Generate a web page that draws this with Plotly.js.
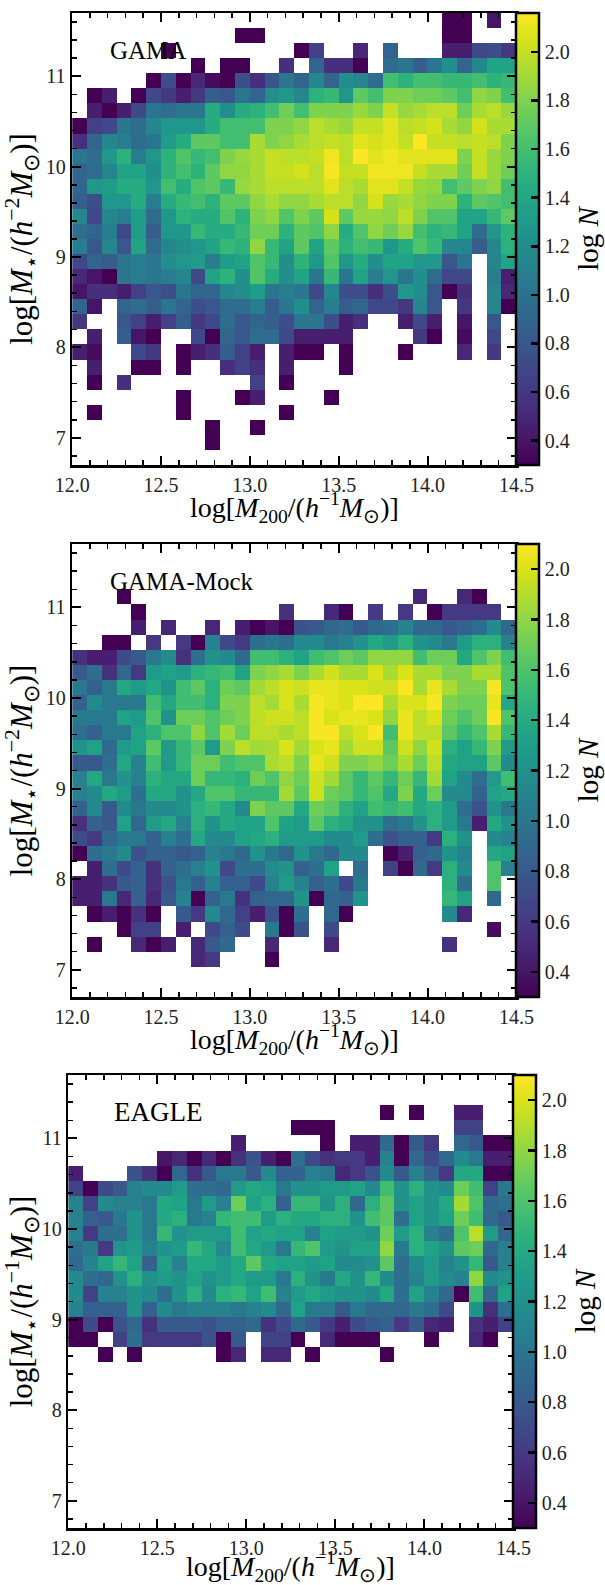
<!DOCTYPE html>
<html>
<head>
<meta charset="utf-8">
<script src="https://cdn.plot.ly/plotly-3.0.1.min.js"></script>
<style>html, body { margin: 0; padding: 0; background: white; }</style>
</head>
<body>
<div id="plot" style="width:605px;height:1585px;"></div>
<script>
const _ = null;

// log N per bin, rows from the top of the panel (11.7) down to 6.7
const gamaRows = [
  [_,_,_,_,_,_,_,_,_,_,_,_,_,_,_,_,_,_,_,_,_,_,_,_,_,.3,.3,_,.4,_],
  [_,_,_,_,_,_,_,_,_,_,_,.3,.3,_,_,_,_,_,_,_,_,_,_,_,_,.3,.3,_,_,_],
  [_,_,_,_,_,_,.3,_,_,_,_,_,_,_,_,.3,.65,_,_,.5,_,.9,_,_,_,.45,.45,.7,.75,.6],
  [_,_,_,_,_,_,_,_,.3,_,.3,.3,_,_,.55,_,.9,.55,.55,.3,_,.95,1.03,.85,1.03,1.22,.9,1.15,1.38,1.38],
  [_,_,_,_,_,.3,.75,.3,.5,.35,.3,.75,.55,.8,1.03,.9,1.15,.9,1.22,1.15,.95,1.6,1.5,1.6,1.6,1.55,1.55,1.6,1.5,1.55],
  [_,.3,.45,_,.3,.7,.6,.45,.6,.85,.8,1.03,.9,1.22,1.28,1.15,1.5,1.55,1.28,1.7,1.6,1.8,1.8,1.75,1.75,1.7,1.6,1.85,1.8,1.6],
  [_,.45,.3,.45,.7,1.03,.95,1.03,1.03,1.45,1.22,1.45,1.5,1.6,1.75,1.6,1.8,1.8,1.8,1.87,1.8,2.0,1.87,1.92,1.97,1.97,1.75,1.92,1.97,1.87],
  [.3,.65,.7,1.03,.95,1.15,1.28,1.28,1.28,1.45,1.6,1.6,1.6,1.8,1.8,1.85,1.97,1.92,1.87,2.0,2.0,2.08,1.97,2.0,2.04,1.92,1.85,2.04,1.92,1.92],
  [.55,.9,1.15,1.08,.95,1.03,1.33,1.45,1.7,1.7,1.6,1.6,1.92,1.8,1.85,1.92,1.97,2.0,1.97,2.08,2.04,2.08,2.0,2.16,2.0,2.0,1.97,2.0,1.97,1.8],
  [1.03,.95,1.28,1.5,1.08,1.28,1.5,1.65,1.55,1.6,1.8,1.87,1.92,2.0,1.97,1.97,2.0,2.12,1.97,2.16,2.08,2.12,2.08,2.08,2.08,2.08,1.8,2.0,1.87,1.8],
  [.9,.95,1.15,1.38,1.38,1.22,1.5,1.6,1.5,1.7,1.85,1.85,1.92,2.0,2.0,2.04,1.97,2.14,2.0,2.0,2.12,2.12,2.12,2.0,1.92,1.92,1.75,2.0,1.87,1.75],
  [.9,1.28,1.33,1.45,1.45,1.28,1.6,1.45,1.65,1.7,1.55,1.87,1.92,1.97,1.97,1.97,1.97,2.08,1.97,1.92,2.08,2.08,2.0,1.87,1.85,1.6,1.7,1.8,1.85,1.6],
  [.85,.75,1.28,1.28,1.45,1.08,1.45,1.55,1.6,1.5,1.7,1.7,1.85,1.92,1.85,1.85,1.92,1.97,1.97,1.85,2.04,1.87,1.92,1.85,1.8,1.8,1.5,1.7,1.65,1.6],
  [1.15,.7,1.15,1.08,1.33,.95,1.28,1.5,1.45,1.45,1.65,1.5,1.8,1.85,1.65,1.8,1.7,2.04,1.7,1.87,1.87,1.85,1.97,1.8,1.65,1.65,1.38,1.38,1.55,1.7],
  [.95,.9,1.08,.7,1.33,.85,1.28,1.28,1.55,1.45,1.45,1.55,1.75,1.75,1.5,1.7,1.65,1.85,1.45,1.65,1.85,1.75,1.87,1.6,1.5,1.55,1.38,.95,1.28,1.5],
  [1.08,.8,1.15,.8,1.38,.95,1.15,1.22,1.28,1.38,1.55,1.5,1.85,1.55,1.38,1.7,1.38,1.7,1.5,1.6,1.55,1.28,1.45,1.65,1.55,1.15,1.15,.85,1.15,1.5],
  [.7,.9,.85,1.03,1.08,1.03,1.22,1.28,1.33,1.08,1.33,1.38,1.65,1.55,1.22,1.5,1.28,1.65,1.28,1.45,1.22,1.38,1.38,1.28,1.28,.8,1.03,_,1.15,1.38],
  [.5,.4,.3,1.03,1.08,1.03,1.08,1.15,.7,1.38,1.5,1.22,1.65,1.45,1.22,1.38,1.03,1.55,1.03,1.38,1.08,1.28,1.03,1.22,.95,.7,.7,_,1.08,.45],
  [.4,.55,.55,.45,.65,.8,.75,1.03,.9,.9,1.15,1.22,1.33,1.03,1.08,1.03,.7,1.15,.75,.75,.55,.75,1.28,1.22,.8,.3,.55,_,1.15,.5],
  [.9,.4,_,.9,.95,.85,1.03,.9,.75,.8,.95,.95,1.08,.85,1.03,1.22,.9,1.08,.85,.9,.7,.7,.6,1.15,.8,_,.6,_,1.15,.3],
  [.6,_,_,.8,.65,.45,.65,.85,.6,.7,.95,.8,.9,.85,.75,1.03,1.03,.75,.45,.55,_,_,.45,.7,.45,_,.4,_,.8,_],
  [_,.45,_,.85,.4,.3,_,_,.7,.3,.9,.8,.95,.95,.7,.45,.45,.45,.45,_,_,_,_,.6,.3,_,.35,_,.7,_],
  [.45,.35,_,_,.7,.6,_,.3,.45,.55,.85,.65,.45,_,.45,.3,.3,_,.3,_,_,_,.3,_,_,_,.5,_,.6,_],
  [_,.45,_,_,.3,.3,_,.3,_,_,.55,.65,.55,_,.45,_,_,_,.3,_,_,_,_,_,_,_,_,_,_,_],
  [_,.3,_,.55,_,_,_,_,_,_,_,_,.65,_,.3,_,_,_,_,_,_,_,_,_,_,_,_,_,_,_],
  [_,_,_,_,_,_,_,.3,_,_,_,.3,.45,_,_,_,_,.3,_,_,_,_,_,_,_,_,_,_,_,_],
  [_,.3,_,_,_,_,_,.3,_,_,_,_,_,_,.3,_,_,_,_,_,_,_,_,_,_,_,_,_,_,_],
  [_,_,_,_,_,_,_,_,_,.3,_,_,.3,_,_,_,_,_,_,_,_,_,_,_,_,_,_,_,_,_],
  [_,_,_,_,_,_,_,_,_,.3,_,_,_,_,_,_,_,_,_,_,_,_,_,_,_,_,_,_,_,_],
  [_,_,_,_,_,_,_,_,_,_,_,_,_,_,_,_,_,_,_,_,_,_,_,_,_,_,_,_,_,_],
];

const mockRows = [
  [_,_,_,_,_,_,_,_,_,_,_,_,_,_,_,_,_,_,_,_,_,_,_,_,_,_,_,_,_,_],
  [_,_,_,_,_,_,_,_,_,_,_,_,_,_,_,_,_,_,_,_,_,_,_,_,_,_,_,_,_,_],
  [_,_,_,_,_,_,_,_,_,_,_,_,_,_,_,_,_,_,_,_,_,_,_,_,_,_,_,_,_,_],
  [_,_,_,.3,_,_,_,_,_,_,_,_,_,_,_,_,_,_,_,_,_,_,_,.5,_,_,.5,.3,_,_],
  [_,_,_,_,.3,_,_,_,_,_,_,_,_,_,.55,_,_,.5,.3,_,.6,_,.6,_,.3,.6,.6,.6,.6,_],
  [_,_,_,_,.45,_,.5,_,_,.5,_,.45,.3,.4,.3,.75,.8,.9,.95,.8,.9,.95,1.08,.9,.9,.8,.85,.95,1.15,.9],
  [_,_,.3,.3,_,.6,_,.6,.3,1.08,.7,.6,.95,1.03,.95,1.15,1.15,1.03,1.08,1.22,1.38,1.28,1.45,1.22,1.15,1.03,1.28,1.45,1.45,1.08],
  [.55,.45,.45,.7,.8,1.03,1.15,.55,.95,1.22,1.15,.9,1.55,1.55,1.45,1.33,1.55,1.6,1.7,1.65,1.8,1.8,1.8,1.55,1.7,1.7,1.38,1.6,1.75,1.55],
  [.8,.95,.55,.9,.6,1.28,1.33,1.28,1.45,1.5,1.55,1.33,1.75,1.8,1.87,1.75,1.87,1.97,1.87,1.87,2.0,1.87,2.0,1.87,1.87,1.75,1.75,1.87,1.87,1.6],
  [1.03,.85,1.03,1.38,1.28,1.38,1.22,1.55,1.65,1.45,1.7,1.65,1.85,1.92,2.0,1.97,2.04,2.04,2.0,2.0,1.97,1.97,2.1,1.87,2.04,1.87,1.75,1.75,2.08,1.6],
  [.85,1.15,1.03,1.03,1.03,1.55,1.38,1.55,1.55,1.45,1.75,1.75,1.92,1.85,2.0,1.87,2.08,2.04,2.0,2.1,2.1,1.87,2.0,2.0,2.08,1.75,1.7,1.7,2.04,1.38],
  [1.03,1.03,1.03,1.33,1.28,1.6,1.22,1.7,1.7,1.6,1.7,1.75,1.92,1.97,1.97,1.92,2.08,2.0,2.04,2.04,2.0,1.8,2.04,1.92,2.0,1.7,1.6,1.7,2.08,1.6],
  [.95,.85,1.03,1.03,1.33,1.45,1.6,1.6,1.8,1.6,1.85,1.7,1.92,1.92,1.87,1.92,2.08,2.08,1.92,2.0,2.08,1.55,2.04,1.92,1.92,1.65,1.5,1.6,1.87,1.5],
  [1.22,1.33,.9,1.28,1.33,1.65,1.28,1.5,1.65,1.28,1.75,1.92,1.85,1.87,2.0,1.85,2.0,2.04,1.85,1.97,1.97,1.65,1.97,1.8,1.97,1.45,1.33,1.5,1.75,1.28],
  [.8,.8,.95,1.38,1.08,1.55,1.28,1.5,1.7,1.7,1.55,1.6,1.6,1.87,1.92,1.75,2.04,1.97,1.75,1.75,1.8,1.7,1.87,1.7,1.92,1.38,1.33,1.33,1.65,1.15],
  [1.08,1.38,1.03,1.22,1.08,1.45,1.38,1.38,1.7,1.5,1.5,1.45,1.7,1.6,1.8,1.7,1.97,1.85,1.65,1.5,1.65,1.5,1.7,1.5,1.85,1.33,1.15,.95,1.28,1.55],
  [1.08,1.15,1.38,1.28,.95,1.38,1.38,1.22,1.38,1.6,1.6,1.5,1.5,1.5,1.85,1.65,1.97,1.7,1.65,1.5,1.6,1.38,1.75,1.38,1.7,1.15,1.15,.85,1.33,1.38],
  [.85,1.15,.8,1.15,1.03,1.15,1.15,1.22,1.45,1.5,1.38,1.15,1.75,1.65,1.65,1.38,1.7,1.65,1.45,1.33,1.55,1.5,1.55,1.38,1.45,1.28,.95,.75,1.22,1.03],
  [.55,.85,.8,1.33,.9,1.28,1.38,1.08,1.45,1.22,1.38,1.33,1.33,1.6,1.33,1.28,1.65,1.45,1.38,1.22,1.22,.95,1.03,1.22,1.45,1.28,1.03,.45,1.38,1.22],
  [.7,.6,.9,1.03,1.03,.85,1.08,.95,1.38,1.15,1.15,1.33,1.38,1.45,1.28,1.28,1.28,1.15,1.15,1.28,.95,.75,.85,.85,.6,1.45,1.22,_,1.15,1.08],
  [.3,.95,1.03,1.15,.75,.85,.85,.8,.85,1.08,1.03,.9,1.22,1.03,.9,1.22,1.03,.9,1.15,1.15,_,.3,.45,.85,.9,1.22,1.08,_,1.38,1.33],
  [_,.45,.95,.7,.85,.55,.85,.95,1.08,1.22,.7,.95,.95,1.15,1.22,.85,.95,1.33,_,.95,_,.65,.3,.9,.6,1.45,1.15,_,1.6,1.08],
  [.45,.45,.55,.8,.85,.55,.75,1.03,.85,1.08,.85,.85,.7,1.08,1.28,1.08,.85,.95,.7,1.03,_,_,_,_,_,1.45,.95,_,1.6,_],
  [.45,.45,1.03,.5,.85,.5,.8,1.08,.3,.85,1.03,.55,.85,.9,.9,1.22,.3,.9,.85,1.22,_,_,_,_,_,1.5,1.33,_,.9,_],
  [_,.3,.45,.3,.55,.3,_,.8,.6,1.15,.9,.65,.45,.75,.3,.95,_,.9,.3,_,_,_,_,_,_,1.15,.5,_,_,_],
  [_,_,_,.3,.65,.65,_,.45,_,.7,.85,.7,_,1.03,.3,.75,_,.7,_,_,_,_,_,_,_,_,_,_,.35,_],
  [_,.3,_,_,.5,.3,.45,_,.5,.8,.9,_,_,.5,_,_,_,.5,_,_,_,_,_,_,_,.55,_,_,_,_],
  [_,_,_,_,_,_,_,_,.5,.6,_,_,_,.3,_,_,_,_,_,_,_,_,_,_,_,_,_,_,_,_],
  [_,_,_,_,_,_,_,_,_,_,_,_,_,_,_,_,_,_,_,_,_,_,_,_,_,_,_,_,_,_],
  [_,_,_,_,_,_,_,_,_,_,_,_,_,_,_,_,_,_,_,_,_,_,_,_,_,_,_,_,_,_],
];

const eagleRows = [
  [_,_,_,_,_,_,_,_,_,_,_,_,_,_,_,_,_,_,_,_,_,_,_,_,_,_,_,_,_,_],
  [_,_,_,_,_,_,_,_,_,_,_,_,_,_,_,_,_,_,_,_,_,_,_,_,_,_,_,_,_,_],
  [_,_,_,_,_,_,_,_,_,_,_,_,_,_,_,_,_,_,_,_,_,.3,_,.3,_,_,.45,.45,_,_],
  [_,_,_,_,_,_,_,_,_,_,_,_,_,_,_,.3,.3,.3,_,_,_,_,_,_,_,_,.65,.65,_,_],
  [_,_,_,_,_,_,_,_,_,_,_,.45,_,_,_,_,_,.3,_,.45,.45,.9,.3,.8,.6,_,.9,.8,.3,.3],
  [_,_,_,_,_,_,.4,.5,.3,.5,.3,.55,.75,.45,.3,.95,.7,.55,.6,.6,.45,1.08,.3,.9,.7,.9,1.15,1.03,.45,.45],
  [.45,_,_,_,.75,.55,.3,.9,.55,.8,1.03,1.03,.8,1.15,.85,.85,1.08,1.03,.5,.6,.75,1.15,.8,1.08,.85,.6,1.38,1.38,.3,.3],
  [.65,.3,.7,.8,1.08,1.15,1.15,1.28,.95,.95,.9,1.28,1.38,1.33,1.03,1.22,1.22,1.28,1.28,1.33,1.15,1.55,1.22,1.45,1.22,1.15,1.7,1.55,.65,1.03],
  [1.08,.65,1.15,1.08,1.08,1.03,1.38,1.33,1.03,1.28,1.08,1.7,1.33,1.45,.85,1.5,1.5,1.22,1.45,.9,1.45,1.65,1.22,1.33,1.22,1.38,1.85,1.6,.9,.95],
  [1.08,.85,.8,1.03,1.22,1.03,1.38,1.45,1.03,1.08,1.5,1.55,1.55,1.28,1.45,1.38,1.38,1.45,1.45,1.22,1.55,1.65,.95,1.33,1.22,1.33,1.7,1.55,.9,.8],
  [1.08,.6,.95,.95,1.22,1.03,1.5,1.22,1.28,1.28,1.28,1.55,1.33,1.38,1.33,1.33,1.08,1.33,1.28,1.28,1.22,1.7,1.28,1.45,1.08,.95,1.6,1.92,1.28,.9],
  [.95,1.03,.6,1.22,1.28,1.08,1.22,1.28,1.5,1.38,1.15,1.55,1.38,1.28,1.03,1.5,1.6,1.28,1.22,1.33,1.33,1.8,1.03,1.45,1.33,1.22,1.65,1.7,.9,1.08],
  [.9,1.08,1.33,1.5,1.33,.85,1.33,1.08,1.38,1.38,1.28,1.38,1.65,1.38,1.33,1.33,1.28,1.33,1.15,1.15,1.22,1.65,.95,1.15,1.28,1.08,1.22,1.5,.8,1.08],
  [1.15,.95,.9,1.22,1.45,1.22,1.28,1.22,1.33,1.22,1.28,1.38,1.28,1.28,1.03,1.45,1.22,1.03,1.38,1.22,1.5,1.15,.95,1.08,1.28,1.15,1.08,1.8,1.15,1.22],
  [1.15,.65,1.08,1.08,1.22,1.15,.95,1.22,1.45,1.15,1.45,1.5,1.33,1.55,1.08,1.28,1.38,1.28,1.22,1.22,1.15,1.38,.95,1.33,1.08,.9,.3,1.55,.9,1.33],
  [1.08,.85,.85,.85,1.22,.85,1.15,1.03,1.08,1.08,1.08,1.03,1.08,1.15,.9,1.33,1.03,1.03,.8,1.03,.9,.9,.9,1.03,.95,.7,_,1.22,.55,.95],
  [.3,.7,.3,.75,.9,.55,.8,.8,.8,.75,.85,.85,.9,.55,.7,.9,.8,.6,.45,.7,.8,.85,.6,.8,.5,.45,_,.55,.45,.65],
  [.3,.3,_,.65,.95,.6,.6,.6,.6,.75,.3,.8,_,.65,.65,.3,_,.5,.3,.3,.3,_,_,_,.3,_,_,.5,.3,_],
  [_,_,.3,_,.3,_,_,_,_,_,.3,.5,_,.5,.5,_,.3,_,_,_,_,.3,_,_,_,_,_,_,_,_],
  [_,_,_,_,_,_,_,_,_,_,_,_,_,_,_,_,_,_,_,_,_,_,_,_,_,_,_,_,_,_],
  [_,_,_,_,_,_,_,_,_,_,_,_,_,_,_,_,_,_,_,_,_,_,_,_,_,_,_,_,_,_],
  [_,_,_,_,_,_,_,_,_,_,_,_,_,_,_,_,_,_,_,_,_,_,_,_,_,_,_,_,_,_],
  [_,_,_,_,_,_,_,_,_,_,_,_,_,_,_,_,_,_,_,_,_,_,_,_,_,_,_,_,_,_],
  [_,_,_,_,_,_,_,_,_,_,_,_,_,_,_,_,_,_,_,_,_,_,_,_,_,_,_,_,_,_],
  [_,_,_,_,_,_,_,_,_,_,_,_,_,_,_,_,_,_,_,_,_,_,_,_,_,_,_,_,_,_],
  [_,_,_,_,_,_,_,_,_,_,_,_,_,_,_,_,_,_,_,_,_,_,_,_,_,_,_,_,_,_],
  [_,_,_,_,_,_,_,_,_,_,_,_,_,_,_,_,_,_,_,_,_,_,_,_,_,_,_,_,_,_],
  [_,_,_,_,_,_,_,_,_,_,_,_,_,_,_,_,_,_,_,_,_,_,_,_,_,_,_,_,_,_],
  [_,_,_,_,_,_,_,_,_,_,_,_,_,_,_,_,_,_,_,_,_,_,_,_,_,_,_,_,_,_],
  [_,_,_,_,_,_,_,_,_,_,_,_,_,_,_,_,_,_,_,_,_,_,_,_,_,_,_,_,_,_],
];

const panelNames = ['GAMA', 'GAMA-Mock', 'EAGLE'];
const colorMax = [2.16, 2.10, 2.10];
const colorTicks = [0.4, 0.6, 0.8, 1.0, 1.2, 1.4, 1.6, 1.8, 2.0];

const W = 605, H = 1585;
const SERIF = '"Liberation Serif", serif';
const INK = '#222';

// pixel boxes of the three panels: left, right, top, bottom
const boxes = [
  [72.5, 519, 13, 465],
  [72.5, 519, 544, 997],
  [68.5, 516, 1075, 1528],
];
const hPower = ['-2', '-2', '-1'];
const nameX = [12.2, 12.2, 12.245];
const nameSize = [25, 25, 27];
const xTitleGap = [43, 42, 38];

const xTitle = 'log[<i>M</i><sub>200</sub>/(<i>h</i><sup>−1</sup><i>M</i><sub>⊙</sub>)]';
const yTitle = p => 'log[<i>M</i><sub>⋆</sub>/(<i>h</i><sup>' + p.replace('-', '−') + '</sup><i>M</i><sub>⊙</sub>)]';

const traces = [];
const layout = {
  width: W,
  height: H,
  margin: { l: 0, r: 0, t: 0, b: 0 },
  paper_bgcolor: 'white',
  plot_bgcolor: 'white',
  showlegend: false,
  font: { family: SERIF, color: INK },
  annotations: [],
};

[gamaRows, mockRows, eagleRows].forEach((rows, i) => {
  const [l, r, t, b] = boxes[i];
  const suffix = i === 0 ? '' : String(i + 1);

  traces.push({
    type: 'heatmap',
    z: rows.slice().reverse(),
    x0: 12 + 2.5 / 60,
    dx: 2.5 / 30,
    y0: 6.7 + 5 / 60,
    dy: 5 / 30,
    xaxis: 'x' + suffix,
    yaxis: 'y' + suffix,
    colorscale: 'Viridis',
    zmin: 0.3,
    zmax: colorMax[i],
    hoverongaps: false,
    colorbar: {
      x: r / W,
      xanchor: 'left',
      xpad: 0,
      ypad: 0,
      y: 1 - (t + b) / 2 / H,
      yanchor: 'middle',
      len: b - t,
      lenmode: 'pixels',
      thickness: 23,
      thicknessmode: 'pixels',
      outlinewidth: 2.5,
      outlinecolor: 'black',
      ticks: 'inside',
      ticklen: 9,
      tickwidth: 2.5,
      tickcolor: 'black',
      tickvals: colorTicks,
      ticktext: colorTicks.map(v => v.toFixed(1)),
      tickfont: { family: SERIF, size: 20, color: INK },
      title: { text: 'log <i>N</i>', side: 'right', font: { family: SERIF, size: 29, color: 'black' } },
    },
  });

  const axis = {
    showgrid: false,
    zeroline: false,
    showline: true,
    linewidth: 2.5,
    linecolor: 'black',
    mirror: 'allticks',
    ticks: 'inside',
    ticklen: 9,
    tickwidth: 2,
    tickcolor: 'black',
    tickfont: { family: SERIF, size: 20, color: INK },
  };

  layout['xaxis' + suffix] = Object.assign({}, axis, {
    domain: [l / W, r / W],
    anchor: 'y' + suffix,
    range: [12, 14.5],
    tick0: 12,
    dtick: 0.5,
    tickformat: '.1f',
    minor: { dtick: 0.1, ticks: 'inside', ticklen: 5, tickwidth: 1.5, tickcolor: 'black' },
  });
  layout['yaxis' + suffix] = Object.assign({}, axis, {
    domain: [1 - b / H, 1 - t / H],
    anchor: 'x' + suffix,
    range: [6.7, 11.7],
    tick0: 7,
    dtick: 1,
    minor: { tick0: 7, dtick: 0.2, ticks: 'inside', ticklen: 5, tickwidth: 1.5, tickcolor: 'black' },
    title: { text: yTitle(hPower[i]), standoff: 4, font: { family: SERIF, size: 31, color: 'black' } },
  });

  // panel name inside the axes
  layout.annotations.push({
    xref: 'x' + suffix,
    yref: 'y' + suffix,
    x: nameX[i],
    y: 11.29,
    xanchor: 'left',
    yanchor: 'middle',
    showarrow: false,
    text: panelNames[i],
    font: { family: SERIF, size: nameSize[i], color: 'black' },
  });
  // x title sits closer to the tick labels than standoff allows
  layout.annotations.push({
    xref: 'x' + suffix,
    yref: 'paper',
    x: 13.25,
    y: 1 - (b + xTitleGap[i]) / H,
    xanchor: 'center',
    yanchor: 'middle',
    showarrow: false,
    text: xTitle,
    font: { family: SERIF, size: 28, color: 'black' },
  });
});

Plotly.newPlot('plot', traces, layout, { displayModeBar: false, staticPlot: true });
</script>
</body>
</html>
